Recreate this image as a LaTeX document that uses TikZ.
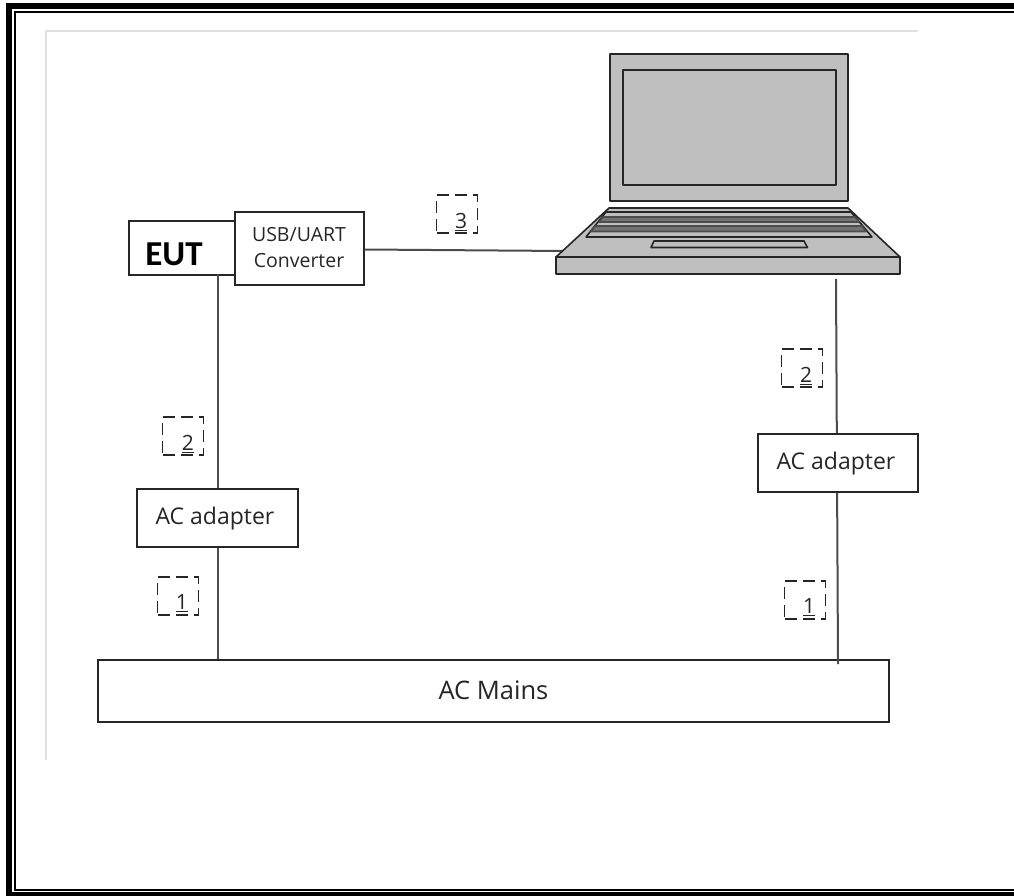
\documentclass[tikz,border=0pt]{standalone}
\usepackage{fontspec}
\setmainfont{Open Sans}
\newfontfamily\eutfont{Carlito}
\tikzset{
  px/.style={x=1pt,y=-1pt},
  box/.style={draw=black!85,line width=2pt,fill=white,inner sep=0pt,align=center},
  wire/.style={draw=black!70,line width=2pt},
  tag/.style={draw=black!85,line width=1.8pt,dash pattern=on 12pt off 6pt,minimum width=41pt,minimum height=38pt,inner sep=0pt},
  num/.style={font=\fontsize{21}{24}\selectfont,text=black!85},
  lap/.style={draw=black!85,line width=1.6pt,fill=black!25,line join=round},
  lab/.style={font=\fontsize{23}{27}\selectfont,text=black!85},
}
\begin{document}
\begin{tikzpicture}[px]
\useasboundingbox (0,0) rectangle (1014,896);
% page frame
\fill[black] (6,3) rectangle (12,896);
\fill[black] (6,3) rectangle (1014,9);
\fill[black] (14,11) rectangle (16,891);
\fill[black] (14,11) rectangle (1014,13);
\fill[black] (14,889) rectangle (1014,891);
\fill[black] (6,892) rectangle (1014,896);
% pasted picture edge
\draw[black!12,line width=1.5pt] (46,760) -- (46,31) -- (918,31);
% wire ends
\coordinate (a1) at (218,274);
\coordinate (a2) at (218,660);
\coordinate (b1) at (836,279);
\coordinate (b2) at (838,664);
\coordinate (c1) at (400,249.5);
\coordinate (c2) at (565,251);
% boxes and wires
\node[box,minimum width=118pt,minimum height=54pt,anchor=north west] (eut) at (127.5,220) {};
\node[font=\eutfont\bfseries\fontsize{35}{40}\selectfont,text=black] (eutt) at (174,254) {EUT};
\draw[wire] (a1) -- (a2);
\node[box,minimum width=161pt,minimum height=58pt] (ad1) at (217.5,518) {};
\node[lab] (ad1t) at (215,519) {AC adapter};
\node[box,minimum width=129pt,minimum height=73pt,font=\fontsize{19.5}{26}\selectfont,text=black!85] (usb) at (299,248) {USB/UART\\Converter};
\draw[wire] (usb.east |- c1) -- (c2);
\node[box,minimum width=791pt,minimum height=62pt] (main) at (493.5,691) {};
\node[font=\fontsize{25.5}{30}\selectfont,text=black!85] (maint) at (493.5,690) {AC Mains};
\draw[wire] (b1) -- (b2);
\node[box,minimum width=160pt,minimum height=58pt] (ad2) at (838,463) {};
\node[lab] (ad2t) at (836,464) {AC adapter};
% tags
\node[tag] (t3) at (457,214) {};
\node[num] (n3) at (461,222) {\underline{3}};
\node[tag] (t2a) at (183,436) {};
\node[num] (n2a) at (188,444) {\underline{2}};
\node[tag] (t1a) at (178,596) {};
\node[num] (n1a) at (182,603) {\underline{1}};
\node[tag] (t2b) at (802,368) {};
\node[num] (n2b) at (806,376) {\underline{2}};
\node[tag] (t1b) at (805,600) {};
\node[num] (n1b) at (809,607) {\underline{1}};
% laptop
\draw[lap] (610,54) rectangle (848,201);
\draw[lap,line width=2pt] (623,70) rectangle (836,185);
\draw[lap] (609,208) -- (848,208) -- (900,257) -- (556,257) -- cycle;
\draw[lap] (556,257) rectangle (900,274);
\draw[lap] (606,212) -- (851,212) -- (872,237) -- (586,237) -- cycle;
\draw[lap,fill=black!55,draw=black!70] (603,217) -- (855,217) -- (859,222) -- (599,222) -- cycle;
\draw[lap,fill=black!55,draw=black!70] (595,226) -- (862,226) -- (866,231.5) -- (591,231.5) -- cycle;
\draw[lap] (654,241) -- (804,241) -- (807.5,247.5) -- (651,247.5) -- cycle;
\end{tikzpicture}
\end{document}
